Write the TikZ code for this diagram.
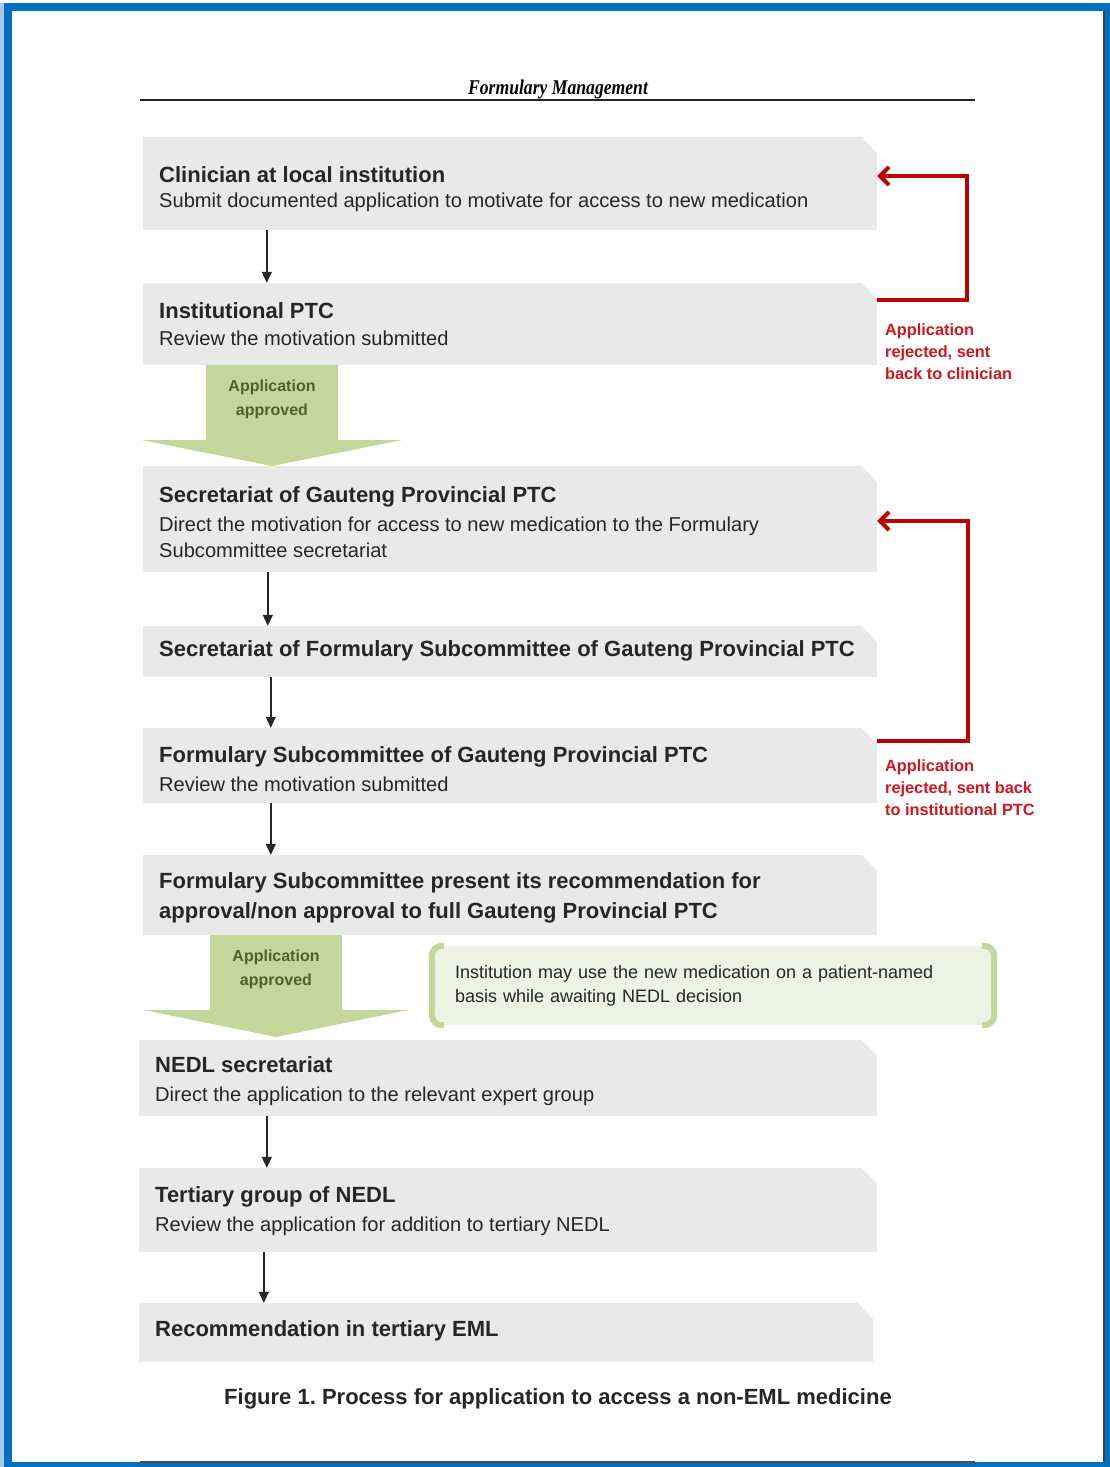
\documentclass[tikz,border=0pt]{standalone}
\usepackage{fontspec}
\setmainfont{Liberation Sans}
\newfontfamily\runninghead{Liberation Serif}
\usetikzlibrary{arrows.meta}
\frenchspacing

\definecolor{FrameBlue}{RGB}{0,112,192}
\definecolor{FrameEdge}{RGB}{170,200,230}
\definecolor{BoxGray}{RGB}{233,233,233}
\definecolor{TextGray}{RGB}{38,38,38}
\definecolor{OliveFill}{RGB}{196,215,155}
\definecolor{OliveText}{RGB}{79,98,40}
\definecolor{NoteFill}{RGB}{237,242,226}
\definecolor{RejectRed}{RGB}{192,0,0}
\definecolor{LabelRed}{RGB}{214,20,30}

\begin{document}
\begin{tikzpicture}[x=1pt,y=-1pt]
			\tikzstyle{Box}		= [rectangle, fill=BoxGray, draw=none, inner sep=0pt, minimum width=734pt,
						   path picture={\fill[white] ([xshift=-15pt]path picture bounding box.north east) -- (path picture bounding box.north east) -- ([yshift=-16pt]path picture bounding box.north east) -- cycle;}]
			\tikzstyle{Head}	= [anchor=base west, inner sep=0pt, text=TextGray, font=\fontsize{22}{30}\selectfont\bfseries]
			\tikzstyle{Sub}		= [anchor=base west, inner sep=0pt, text=TextGray, font=\fontsize{20.1}{26}\selectfont]
			\tikzstyle{Flow}	= [-{Triangle[length=11pt,width=10pt]}, line width=1.4pt, black!85]
			\tikzstyle{Reject}	= [-{Straight Barb[length=9pt,width=18pt]}, line width=4pt, RejectRed, line join=miter]
			\tikzstyle{RedNote}	= [anchor=north west, inner sep=0pt, align=left, text=LabelRed, font=\fontsize{16.3}{22}\selectfont\bfseries]
			\tikzstyle{Approved}	= [inner sep=0pt, align=center, text=OliveText, font=\fontsize{16}{24}\selectfont\bfseries]
			\tikzstyle{Note}	= [fill=NoteFill, rounded corners=9pt, minimum width=562pt, minimum height=79pt, inner xsep=23pt, inner ysep=0pt, text width=516pt, align=left, text=TextGray, font=\fontsize{18}{24}\selectfont]
			\tikzstyle{Bracket}	= [OliveFill, line width=6pt, rounded corners=10pt]
			
			\useasboundingbox (0,0) rectangle (1110,1467);
			
			% page frame
			\fill[FrameEdge] (0,3) rectangle (4,1467);
			\fill[FrameBlue] (4,3) rectangle (1110,1467);
			\fill[white] (12,11) rectangle (1104,1462);
			\draw[line width=2pt, black!75] (1104,11) -- (1104,1462);
			\draw[line width=1.5pt, TextGray] (140,100) -- (975,100);
			\draw[line width=2.5pt, black!70] (140,1462) -- (975,1462);
			\node (title) at (558,94) [anchor=base, inner sep=0pt, font=\runninghead\fontsize{21}{22}\selectfont\bfseries\itshape] {\scalebox{0.84}[1]{Formulary Management}};
			
			% steps
			\node (c1) at (510,183.5) [Box, minimum height=93pt] {};
			\node (c2) at (510,324) [Box, minimum height=82pt] {};
			\node (c3) at (510,519) [Box, minimum height=106pt] {};
			\node (c4) at (510,651.5) [Box, minimum height=51pt] {};
			\node (c5) at (510,765.5) [Box, minimum height=75pt] {};
			\node (c6) at (510,895) [Box, minimum height=80pt] {};
			\node (c7) at (508,1078) [Box, minimum width=738pt, minimum height=76pt] {};
			\node (c8) at (508,1210) [Box, minimum width=738pt, minimum height=84pt] {};
			\node (c9) at (506,1332.5) [Box, minimum height=59pt] {};
			
			\node (h1) at (159,182.5) [Head] {Clinician at local institution};
			\node (s1) at (159,207) [Sub] {Submit documented application to motivate for access to new medication};
			\node (h2) at (159,318.5) [Head] {Institutional PTC};
			\node (s2) at (159,345) [Sub] {Review the motivation submitted};
			\node (h3) at (159,502.5) [Head] {Secretariat of Gauteng Provincial PTC};
			\node (s3) at (159,516.5) [Sub, anchor=north west, align=left] {Direct the motivation for access to new medication to the Formulary\\Subcommittee secretariat};
			\node (h4) at (159,656.5) [Head] {Secretariat of Formulary Subcommittee of Gauteng Provincial PTC};
			\node (h5) at (159,762.5) [Head] {Formulary Subcommittee of Gauteng Provincial PTC};
			\node (s5) at (159,791) [Sub] {Review the motivation submitted};
			\node (h6) at (159,872.5) [Head, anchor=north west, align=left] {Formulary Subcommittee present its recommendation for\\approval/non approval to full Gauteng Provincial PTC};
			\node (h7) at (155,1072.5) [Head] {NEDL secretariat};
			\node (s7) at (155,1101) [Sub] {Direct the application to the relevant expert group};
			\node (h8) at (155,1202.5) [Head] {Tertiary group of NEDL};
			\node (s8) at (155,1231) [Sub] {Review the application for addition to tertiary NEDL};
			\node (h9) at (155,1336.5) [Head] {Recommendation in tertiary EML};
			
			\draw [Flow] ([xshift=124pt]c1.south west) -- ([xshift=124pt]c2.north west);
			\draw [Flow] ([xshift=125pt]c3.south west) -- ([xshift=125pt]c4.north west);
			\draw [Flow] ([xshift=128pt]c4.south west) -- ([xshift=128pt]c5.north west);
			\draw [Flow] ([xshift=128pt]c5.south west) -- ([xshift=128pt]c6.north west);
			\draw [Flow] ([xshift=128pt]c7.south west) -- ([xshift=128pt]c8.north west);
			\draw [Flow] ([xshift=125pt]c8.south west) -- ([xshift=125pt]c9.north west);
			
			% approval arrows
			\fill[OliveFill] (206,365) -- (338,365) -- (338,440) -- (402,440) -- (272,466) -- (142,440) -- (206,440) -- cycle;
			\fill[OliveFill] (210,935) -- (342,935) -- (342,1010) -- (408,1010) -- (276,1037) -- (144,1010) -- (210,1010) -- cycle;
			\node (a1) at (272,399) [Approved] {Application\\approved};
			\node (a2) at (276,969) [Approved] {Application\\approved};
			
			% rejections
			\draw [Reject] ([yshift=-17pt]c2.north east) -- ++(90,0) |- ([yshift=7.5pt]c1.east);
			\draw [Reject] ([yshift=-13pt]c5.north east) -- ++(91,0) |- ([yshift=-2pt]c3.east);
			\node (r1) at (885,323) [RedNote] {Application\\rejected, sent\\back to clinician};
			\node (r2) at (885,759) [RedNote] {Application\\rejected, sent back\\to institutional PTC};
			
			% interim use
			\node (note) at (713,985.5) [Note] {Institution may use the new medication on a patient-named\\basis while awaiting NEDL decision};
			\draw [Bracket] ([xshift=12pt]note.north west) -- (note.north west) -- (note.south west) -- ([xshift=12pt]note.south west);
			\draw [Bracket] ([xshift=-12pt]note.north east) -- (note.north east) -- (note.south east) -- ([xshift=-12pt]note.south east);
			
			\node (caption) at (558,1404) [anchor=base, inner sep=0pt, text=TextGray, font=\fontsize{22}{24}\selectfont\bfseries] {Figure 1. Process for application to access a non-EML medicine};
\end{tikzpicture}
\end{document}
